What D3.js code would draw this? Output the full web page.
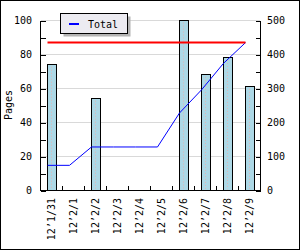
<!DOCTYPE html>
<html>
<head>
<meta charset="utf-8">
<script src="https://cdn.jsdelivr.net/npm/d3@7"></script>
<style>
  body { margin: 0; background: #fff; }
  svg text { font-family: "DejaVu Sans Mono", monospace; font-size: 10px; fill: #000; }
  .axis line, .axis path { stroke: #000; shape-rendering: crispEdges; }
</style>
</head>
<body>
<svg id="chart" width="300" height="250"></svg>
<script>
// Data ////////////////////////////////////////////////////////////////
var days = ["12’1/31", "12’2/1", "12’2/2", "12’2/3", "12’2/4",
            "12’2/5", "12’2/6", "12’2/7", "12’2/8", "12’2/9"];
var pages = [74, 0, 54, 0, 0, 0, 100, 68, 78, 61];
var total = [74, 74, 128, 128, 128, 128, 228, 296, 374, 435];
var grandTotal = 435;
var leftTicks = [0, 20, 40, 60, 80, 100];
var rightTicks = [0, 100, 200, 300, 400, 500];

var svg = d3.select("#chart");

// outer frame
svg.append("rect")
    .attr("x", 0.5).attr("y", 0.5)
    .attr("width", 299).attr("height", 249)
    .attr("fill", "#fff").attr("stroke", "#000");

// scales
var x = d3.scaleBand().domain(days).range([40.5, 260.5]);
var y = d3.scaleLinear().domain([0, 100]).range([190.5, 20.5]);
var y2 = d3.scaleLinear().domain([0, 500]).range([190.5, 20.5]);
var cx = function(d) { return x(d) + x.bandwidth() / 2; };

// grid lines
svg.selectAll(".grid")
    .data(leftTicks.slice(1))
    .enter()
    .append("line")
        .attr("x1", 41).attr("x2", 260)
        .attr("y1", function(d) { return y(d) }).attr("y2", function(d) { return y(d) })
        .attr("stroke", "#d9d9d9")
        .attr("shape-rendering", "crispEdges");

// bars
var bars = svg.selectAll(".bar")
    .data(days.map(function(d, i) { return {day: d, v: pages[i]} }).filter(function(d) { return d.v > 0 }))
    .enter()
    .append("g");

bars.append("rect")
    .attr("x", function(d) { return cx(d.day) - 4 })
    .attr("y", function(d) { return y(d.v) })
    .attr("width", 9)
    .attr("height", function(d) { return y(0) - y(d.v) })
    .attr("fill", "#add8e6")
    .attr("stroke", "#000")
    .attr("shape-rendering", "crispEdges");

bars.append("line")
    .attr("x1", function(d) { return cx(d.day) }).attr("x2", function(d) { return cx(d.day) })
    .attr("y1", function(d) { return y(d.v) + 2 }).attr("y2", y(0) - 1)
    .attr("stroke", "#e3b4b4")
    .attr("stroke-dasharray", "1,2");

// cumulative line (right axis)
var line = d3.line()
    .x(function(d, i) { return cx(days[i]) - 4 })
    .y(function(d) { return y2(d) });

svg.append("path")
    .datum(total)
    .attr("d", line)
    .attr("fill", "none")
    .attr("stroke", "#0000ff")
    .attr("stroke-width", 1);

// total line
svg.append("line")
    .attr("x1", cx(days[0]) - 4).attr("x2", cx(days[days.length - 1]) - 4)
    .attr("y1", y2(grandTotal)).attr("y2", y2(grandTotal))
    .attr("stroke", "#ff0000")
    .attr("stroke-width", 2);

// left axis
var left = svg.append("g").attr("class", "axis")
    .attr("transform", "translate(40.5,0)")
    .call(d3.axisRight(y).ticks(10).tickSize(5).tickFormat(""));
left.select(".domain").attr("d", "M0," + y(100) + "V" + y(0));
svg.selectAll(".ylab")
    .data(leftTicks)
    .enter()
    .append("text")
        .attr("x", 32).attr("y", function(d) { return y(d) + 3.5 })
        .attr("text-anchor", "end")
        .text(function(d) { return d });

// right axis
var right = svg.append("g").attr("class", "axis")
    .attr("transform", "translate(260.5,0)")
    .call(d3.axisLeft(y2).ticks(10).tickSize(5).tickFormat(""));
right.select(".domain").attr("d", "M0," + y2(500) + "V" + y2(0));
svg.selectAll(".y2lab")
    .data(rightTicks)
    .enter()
    .append("text")
        .attr("x", 267).attr("y", function(d) { return y2(d) + 3.5 })
        .text(function(d) { return d });

// bottom axis
var bottom = svg.append("g").attr("class", "axis")
    .attr("transform", "translate(0,190.5)");
bottom.append("line").attr("x1", 40.5).attr("x2", 260.5);
bottom.selectAll(".xtick")
    .data(days.slice(1))
    .enter()
    .append("line")
        .attr("x1", function(d) { return x(d) }).attr("x2", function(d) { return x(d) })
        .attr("y1", 0).attr("y2", -5);

svg.selectAll(".xlab")
    .data(days)
    .enter()
    .append("text")
        .attr("transform", function(d) { return "translate(" + (cx(d) + 3.5) + ",198) rotate(-90)" })
        .attr("text-anchor", "end")
        .text(function(d) { return d });

// y title
svg.append("text")
    .attr("transform", "translate(12,105) rotate(-90)")
    .attr("text-anchor", "middle")
    .text("Pages");

// legend
svg.append("rect")
    .attr("x", 63.5).attr("y", 16.5).attr("width", 67).attr("height", 20)
    .attr("fill", "#b4b4b4");
svg.append("rect")
    .attr("x", 60.5).attr("y", 13.5).attr("width", 67).attr("height", 20)
    .attr("fill", "#ecebf1").attr("stroke", "#000")
    .attr("shape-rendering", "crispEdges");
svg.append("line")
    .attr("x1", 69).attr("x2", 79).attr("y1", 24).attr("y2", 24)
    .attr("stroke", "#0000ff").attr("stroke-width", 2);
svg.append("text")
    .attr("x", 88).attr("y", 27.5)
    .text("Total");
</script>
</body>
</html>
